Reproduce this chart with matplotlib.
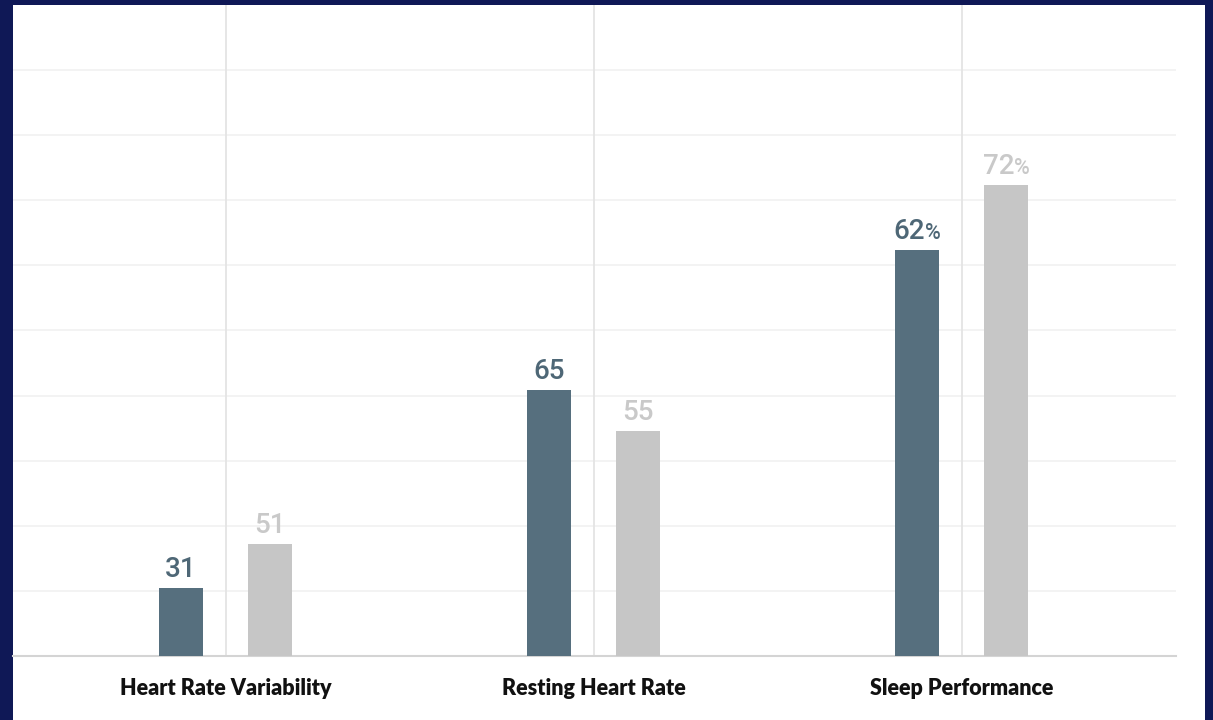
import matplotlib.pyplot as plt

# Data
categories = ["Heart Rate Variability", "Resting Heart Rate", "Sleep Performance"]
values_dark = [31, 65, 62]
values_light = [51, 55, 72]
value_suffix = ["", "", "%"]

# Each metric is drawn on its own vertical scale (axis top value per group)
group_ymax = [296, 159, 99.5]

DARK = "#566f7e"
LIGHT = "#c6c6c6"
DARK_TXT = "#4e6776"
LIGHT_TXT = "#c9c9c9"
NAVY = "#0f1856"

W, H = 1213, 720
fig = plt.figure(figsize=(W / 100, H / 100), dpi=100)
fig.patch.set_facecolor(NAVY)

# white panel behind the chart
panel = fig.add_axes([13 / W, 0, (1205 - 13) / W, (H - 5) / H], zorder=0)
panel.set_axis_off()
panel.add_artist(plt.Rectangle((0, 0), 1, 1, transform=panel.transAxes,
                               facecolor="white", edgecolor="none"))

rect = [13 / W, (H - 656) / H, 1163 / W, 651 / H]
spacing = 368.0
x0 = (225.5 - 13) / spacing
xlim = (-x0, 1163 / spacing - x0)
off = 44.5 / spacing
bw = 44 / spacing

# grid / base axes
ax = fig.add_axes(rect, zorder=1)
ax.set_facecolor("none")
ax.set_xlim(*xlim)
ax.set_ylim(0, 10)
for yy in range(1, 10):
    ax.axhline(yy, color="#f1f1f1", lw=1.2, zorder=0)
for i in range(len(categories)):
    ax.axvline(i, color="#e4e4e4", lw=1.3, zorder=0)
for s in ["top", "left", "right"]:
    ax.spines[s].set_visible(False)
ax.spines["bottom"].set_color("#d4d4d4")
ax.spines["bottom"].set_linewidth(1.5)
ax.set_yticks([])
ax.set_xticks(range(len(categories)))
ax.set_xticklabels(categories, fontfamily="Lato", fontweight="heavy",
                   fontsize=15.5, color="#111111")
ax.tick_params(axis="x", length=0, pad=16)

NUM_FS = 20
PCT_FS = 15.5


def value_label(a, x, v, suffix, color):
    if suffix:
        a.annotate(str(v), (x, v), xytext=(6, 8), textcoords="offset points",
                   ha="right", va="baseline", fontfamily="Roboto",
                   fontweight="medium", fontsize=NUM_FS, color=color)
        a.annotate(suffix, (x, v), xytext=(6, 8), textcoords="offset points",
                   ha="left", va="baseline", fontfamily="Roboto",
                   fontweight="medium", fontsize=PCT_FS, color=color)
    else:
        a.annotate(str(v), (x, v), xytext=(0, 8), textcoords="offset points",
                   ha="center", va="baseline", fontfamily="Roboto",
                   fontweight="medium", fontsize=NUM_FS, color=color)


for i in range(len(categories)):
    ga = fig.add_axes(rect, zorder=2 + i)
    ga.set_facecolor("none")
    ga.set_axis_off()
    ga.set_xlim(*xlim)
    ga.set_ylim(0, group_ymax[i])
    ga.bar(i - off, values_dark[i], width=bw, color=DARK)
    ga.bar(i + off, values_light[i], width=bw, color=LIGHT)
    value_label(ga, i - off, values_dark[i], value_suffix[i], DARK_TXT)
    value_label(ga, i + off, values_light[i], value_suffix[i], LIGHT_TXT)

fig.savefig("out.png", dpi=100, facecolor=fig.get_facecolor())
